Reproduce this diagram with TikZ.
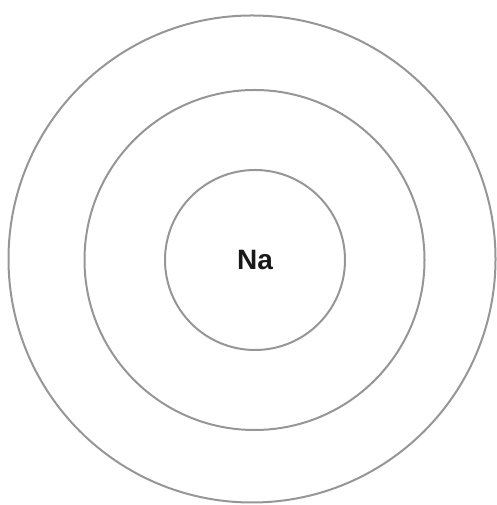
\documentclass[tikz,border=0pt]{standalone}
\usepackage{fontspec}
\setmainfont{Liberation Sans}
\usepackage{xcolor}
\definecolor{shellgray}{RGB}{150,150,150}
\usetikzlibrary{positioning}

\begin{document}
\begin{tikzpicture}[x=1pt,y=1pt,
  shell/.style={draw=shellgray,line width=2pt,circle,inner sep=0pt},
  elem/.style={font=\fontsize{28}{30}\selectfont\bfseries,text=black!90}]
  \useasboundingbox (0,0) rectangle (496,505);
  % Shells
  \node[shell,minimum size=487pt] (outer) at (252,246) {};
  \node[shell,minimum size=340pt] (middle) at (254.5,245) {};
  \node[shell,minimum size=180pt] (inner) at (255,245) {};
  % Nucleus
  \node[elem] (na) at (inner.center) {Na};
\end{tikzpicture}
\end{document}
